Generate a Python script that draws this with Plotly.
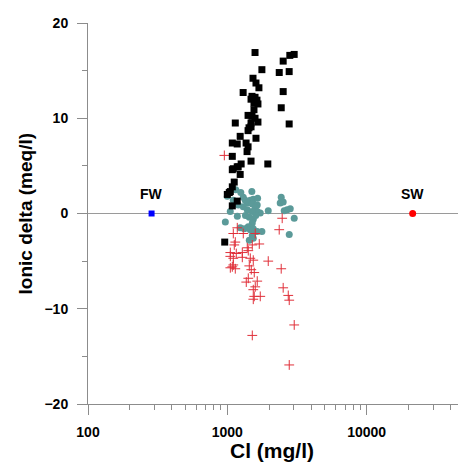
import numpy as np
import plotly.graph_objects as go

# black squares
black_cl = [1581, 2810, 3020, 2518, 1771, 2359, 2780, 1529, 1606, 1686, 1299, 2518,
            1504, 1581, 1632, 1480, 1554, 1659, 2438, 1554, 1409, 1504, 1581, 1659,
            1141, 2780, 1480, 1432, 1480, 1409, 1237, 1606, 1086, 1178, 1364, 1409,
            1386, 1086, 1480, 1953, 1257, 1197, 1103, 1178, 1086, 1237, 1121, 1086,
            1051, 1000, 1033, 1178, 1086, 958]
black_delta = [16.9, 16.6, 16.7, 16.0, 15.1, 14.8, 14.9, 14.2, 13.7, 13.2, 12.7, 12.8,
               12.3, 12.2, 11.9, 12.0, 11.6, 11.5, 11.1, 10.9, 10.3, 10.2, 10.0, 9.6,
               9.5, 9.4, 9.5, 9.0, 9.1, 8.7, 8.1, 7.9, 7.4, 7.3, 7.4, 7.0,
               6.5, 6.0, 5.5, 5.2, 5.2, 4.9, 4.7, 4.9, 4.6, 4.1, 3.3, 2.8,
               2.3, 2.0, 2.2, 1.3, 0.8, -3.0]

# teal circles
teal_cl = [1000, 1302, 1345, 1462, 1536, 1391, 1511, 1640, 1587, 1724, 1640, 1511,
           1391, 1302, 1104, 1199, 2437, 2397, 2518, 1967, 2691, 2830, 2560, 3022,
           968, 1438, 1536, 1511, 1414, 1462, 1536, 1587, 1511, 1536, 1438, 2783,
           1640, 1771, 1239, 1323, 1150, 1250, 1050, 1180, 1350, 1650, 1500, 1600]
teal_delta = [1.8, 1.7, 1.4, 1.4, 1.5, 1.1, 1.0, 0.9, 0.6, 0.05, 0.2, 0.2,
              0.4, 0.7, 1.4, 0.9, 1.7, 1.1, 1.2, 0.3, 0.4, 0.5, 0.3, -0.5,
              -0.9, -0.4, -0.6, -1.0, -1.4, -1.7, -1.6, -1.9, -2.3, -2.6, -2.8, -2.2,
              -1.9, -1.9, -1.5, -1.6, 2.5, 2.2, 0.2, -0.3, -0.2, 1.6, 2.3, -0.2]

# red crosses
red_cl = [952, 2477, 2358, 1179, 1104, 1302, 1587, 1141, 1122, 1391, 1414, 1696,
          1511, 1051, 1104, 1281, 1462, 1536, 1967, 1086, 1141, 1104, 1051, 1438,
          1486, 1561, 2437, 1414, 1368, 1640, 1587, 1536, 2518, 1561, 1724, 1536,
          2738, 2783, 3022, 1511, 2783, 1051, 1160, 1281]
red_delta = [6.1, -0.5, -1.7, -1.5, -2.1, -2.1, -2.1, -3.0, -3.3, -3.6, -3.9, -3.2,
             -3.3, -4.1, -4.7, -4.6, -4.7, -4.9, -5.0, -5.6, -5.8, -5.4, -5.7, -5.5,
             -5.9, -6.2, -5.8, -6.8, -7.2, -7.1, -7.7, -8.0, -7.8, -8.7, -8.7, -9.0,
             -8.6, -9.1, -11.7, -12.8, -15.9, -4.5, -4.2, -4.1]

# end members
fw_cl, fw_delta = [286], [0]
sw_cl, sw_delta = [21400], [0]
end_labels = ["FW", "SW"]

x_range = [100, 50000]
y_ticks = [-20, -10, 0, 10, 20]

FONT = "Liberation Sans, Arial, sans-serif"
AXIS_GREY = "#8c8c8c"

fig = go.Figure()

fig.add_trace(go.Scatter(
    x=x_range, y=[0, 0], mode="lines",
    line={"color": "#9a9a9a", "width": 1}, hoverinfo="skip",
))
fig.add_trace(go.Scatter(
    x=teal_cl, y=teal_delta, mode="markers",
    marker={"symbol": "circle", "size": 7, "color": "#5b9a99"},
))
fig.add_trace(go.Scatter(
    x=red_cl, y=red_delta, mode="markers",
    marker={"symbol": "cross-thin", "size": 7, "line": {"color": "#e0303a", "width": 1}},
))
fig.add_trace(go.Scatter(
    x=black_cl, y=black_delta, mode="markers",
    marker={"symbol": "square", "size": 7, "color": "black"},
))
fig.add_trace(go.Scatter(
    x=fw_cl, y=fw_delta, mode="markers",
    marker={"symbol": "square", "size": 6, "color": "#0000ff"},
))
fig.add_trace(go.Scatter(
    x=sw_cl, y=sw_delta, mode="markers",
    marker={"symbol": "circle", "size": 7, "color": "#ff0000"},
))

# end-member labels
for cl, lab in zip([fw_cl[0], sw_cl[0]], end_labels):
    fig.add_annotation(
        x=np.log10(cl), y=0, text=f"<b>{lab}</b>", showarrow=False,
        yshift=20, font={"family": FONT, "size": 14, "color": "black"},
    )

# axis titles
fig.add_annotation(
    xref="paper", yref="paper", x=0.49, y=-0.121, yanchor="middle",
    text="<b>Cl (mg/l)</b>", showarrow=False,
    font={"family": FONT, "size": 21, "color": "black"},
)
fig.add_annotation(
    xref="paper", yref="paper", x=-0.165, y=0.5, xanchor="center",
    text="<b>Ionic delta (meq/l)</b>", showarrow=False, textangle=-90,
    font={"family": FONT, "size": 19, "color": "black"},
)

axis_common = {
    "showgrid": False,
    "zeroline": False,
    "showline": True,
    "linecolor": AXIS_GREY,
    "linewidth": 1,
    "ticks": "outside",
    "tickcolor": AXIS_GREY,
    "ticklen": 10,
    "automargin": False,
    "tickfont": {"family": FONT, "size": 14, "color": "black", "weight": "bold"},
}

fig.update_xaxes(
    type="log",
    range=[np.log10(x_range[0]), np.log10(x_range[1])],
    tickvals=[100, 1000, 10000],
    ticktext=["100", "1000", "10000"],
    minor={"ticks": "outside", "ticklen": 5, "tickcolor": AXIS_GREY,
           "tickvals": [m * 10 ** e for e in (2, 3, 4) for m in range(2, 10) if m * 10 ** e <= x_range[1]]},
    ticklabelstandoff=5,
    **axis_common,
)
fig.update_yaxes(
    range=[-20, 20],
    tickvals=y_ticks,
    minor={"ticks": "outside", "ticklen": 5, "tickcolor": AXIS_GREY, "dtick": 5},
    ticklabelstandoff=6,
    **axis_common,
)

# page body has an 8px margin, so the figure is a bit smaller than the window
fig.update_layout(
    width=458,
    height=459,
    margin={"l": 80, "r": 2, "t": 15, "b": 63},
    paper_bgcolor="white",
    plot_bgcolor="white",
    showlegend=False,
)

fig.write_html("out.html")
